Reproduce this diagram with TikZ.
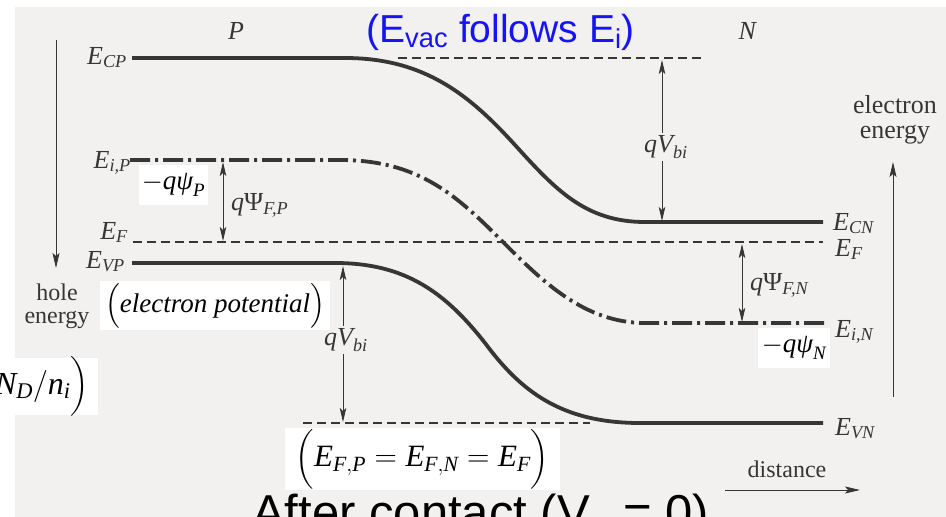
\RequirePackage{fix-cm}
\documentclass[tikz,border=0pt]{standalone}
\usepackage{amsmath}
\usepackage{fontspec}
\setmainfont{Liberation Serif}
\newfontfamily\sansf{Liberation Sans}
\usetikzlibrary{arrows.meta}
\definecolor{pagebg}{HTML}{F3F1F0}
\definecolor{ink}{HTML}{363636}
\definecolor{titleblue}{HTML}{1414F5}
\newcommand{\fsz}[1]{\fontsize{#1}{#1}\selectfont}
\newcommand{\bandlab}[2]{$\textit{#1}_{\textit{#2}}$}
\begin{document}
\begin{tikzpicture}[x=1pt,y=-1pt,
  band/.style={line width=3.8pt, draw=ink},
  midgap/.style={line width=3.8pt, draw=ink, dash pattern=on 20pt off 5pt on 3pt off 5pt},
  lvl/.style={line width=1.3pt, draw=ink, dash pattern=on 9pt off 5pt},
  dim/.style={line width=0.9pt, draw=ink, {Stealth[length=14pt,width=6.5pt,inset=3pt]}-{Stealth[length=14pt,width=6.5pt,inset=3pt]}},
  onearrow/.style={line width=0.9pt, draw=ink, -{Stealth[length=15pt,width=7pt,inset=3pt]}},
  elab/.style={text=ink, font=\fsz{26}, inner sep=0pt},
  qlab/.style={text=ink, font=\fsz{26}, inner sep=2pt, fill=pagebg},
  wordlab/.style={text=ink, font=\fontsize{24}{23}\selectfont, align=center, inner sep=0pt},
  overlay/.style={fill=white, inner sep=0pt, text=black},
]
\useasboundingbox (0,0) rectangle (946,517);
% page
\fill[white] (0,0) rectangle (946,517);
\fill[pagebg] (15,7) rectangle (946,517);

% coordinates
\coordinate (ecL) at (132,58);
\coordinate (ecR) at (823,222);
\coordinate (eiL) at (130,160);
\coordinate (eiR) at (825,323);
\coordinate (evL) at (132,263);
\coordinate (evR) at (823,423);
\coordinate (efL) at (133,242);
\coordinate (efR) at (823,242);
\coordinate (topdA) at (398,58);
\coordinate (topdB) at (703,58);
\coordinate (lowdA) at (303,423);
\coordinate (lowdB) at (590,423);

% dashed reference levels
\draw[lvl] (efL) -- (efR);
\draw[lvl] (topdA) -- (topdB);
\draw[lvl] (lowdA) -- (lowdB);

% bands
\draw[band] (ecL) -- (345,58) .. controls (425,58) and (470,95.5) .. (515,145)
  .. controls (555,189) and (585,222) .. (645,222) -- (ecR);
\draw[midgap] (eiL) -- (340,160) .. controls (420,160) and (458,197) .. (503,242)
  .. controls (543,282) and (585,323) .. (645,323) -- (eiR);
\draw[band] (evL) -- (335,263) .. controls (405,263) and (445,292) .. (485,343)
  .. controls (520,390) and (560,423) .. (640,423) -- (evR);

% band labels
\node[elab, anchor=base east] (lecp) at (127,64) {\bandlab{E}{CP}};
\node[elab, anchor=base east] (leip) at (131,168) {\bandlab{E}{i,P}};
\node[elab, anchor=base east] (lefp) at (128,239) {\bandlab{E}{F}};
\node[elab, anchor=base east] (levp) at (125,268) {\bandlab{E}{VP}};
\node[elab, anchor=base west] (lecn) at (833,230) {\bandlab{E}{CN}};
\node[elab, anchor=base west] (lefn) at (835,256) {\bandlab{E}{F}};
\node[elab, anchor=base west] (lein) at (835,337) {\bandlab{E}{i,N}};
\node[elab, anchor=base west] (levn) at (835,435) {\bandlab{E}{VN}};
\node[elab] (lp) at (236,31) {\textit{P}};
\node[elab] (ln) at (748,31) {\textit{N}};

% dimension arrows
\coordinate (vbT1) at (662,60);
\coordinate (vbT2) at (662,221);
\draw[dim] (vbT1) -- (vbT2);
\node[qlab] (lvbt) at (666,147) {$\textit{qV}_{\textit{bi}}$};
\coordinate (vbB1) at (343,266);
\coordinate (vbB2) at (343,422);
\draw[dim] (vbB1) -- (vbB2);
\node[qlab] (lvbb) at (346,340) {$\textit{qV}_{\textit{bi}}$};
\coordinate (fp1) at (223,162);
\coordinate (fp2) at (223,241);
\draw[dim] (fp1) -- (fp2);
\node[qlab, anchor=west, fill=none, inner sep=0pt] (lfp) at (231,205) {\textit{q}Ψ$_{\textit{F,P}}$};
\coordinate (fn1) at (742,244);
\coordinate (fn2) at (742,322);
\draw[dim] (fn1) -- (fn2);
\node[qlab, anchor=west, fill=none, inner sep=0pt] (lfn) at (750,285) {\textit{q}Ψ$_{\textit{F,N}}$};

% axes
\coordinate (hA) at (56,40);
\coordinate (hB) at (56,268);
\draw[onearrow] (hA) -- (hB);
\node[wordlab] (lhole) at (57,306) {hole\\energy};
\coordinate (eA) at (893,397);
\coordinate (eB) at (893,162);
\draw[onearrow] (eA) -- (eB);
\node[wordlab, font=\fontsize{26}{25}\selectfont] (lelec) at (895,120) {electron\\energy};
\coordinate (dA) at (725,490);
\coordinate (dB) at (860,490);
\draw[onearrow] (dA) -- (dB);
\node[wordlab] (ldist) at (787,469) {distance};

% white overlay boxes
\node[overlay, minimum width=69pt, minimum height=40pt, font=\fsz{27}] (mqp) at (173.5,185) {$-\textit{qψ}_{\textit{P}}$};
\node[overlay, minimum width=230pt, minimum height=45pt, font=\fsz{27}] (epot) at (215,305.5) {$\Big(\textit{electron potential}\Big)$};
\node[overlay, minimum width=98pt, minimum height=57pt] (ndbox) at (49,386.5) {};
\node[anchor=east, inner sep=0pt, font=\fsz{32}] (ndni) at (89,386) {$\textit{N}_{\textit{D}}/\textit{n}_{\textit{i}}\Big)$};
\node[overlay, minimum width=275pt, minimum height=62pt, font=\fsz{31}] (efeq) at (422.5,459) {$\Big(\textit{E}_{\textit{F},\textit{P}}=\textit{E}_{\textit{F},\textit{N}}=\textit{E}_{\textit{F}}\Big)$};
\node[overlay, minimum width=72pt, minimum height=40pt, font=\fsz{27}] (mqn) at (794,348) {$-\textit{qψ}_{\textit{N}}$};

% titles
\node[anchor=base west, inner sep=0pt, text=titleblue, font=\sansf\fsz{39}] (title) at (366,42) {(E\textsubscript{vac} follows E\textsubscript{i})};
\node[anchor=base west, inner sep=0pt, text=black, font=\sansf\fsz{49}] (after) at (252,529) {After contact (V\textsubscript{a} = 0)};
\end{tikzpicture}
\end{document}
